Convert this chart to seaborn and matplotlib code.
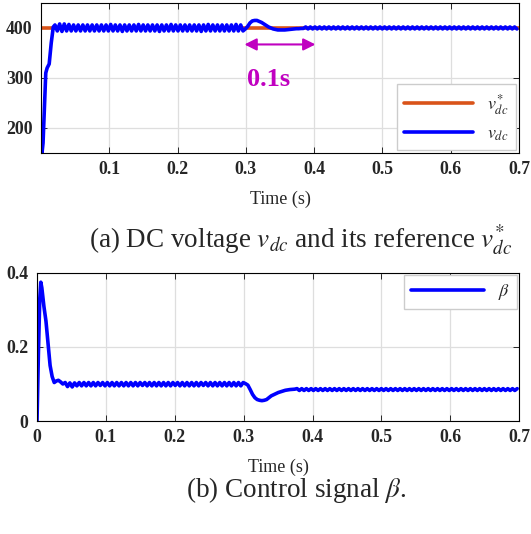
import numpy as np
import seaborn as sns
import matplotlib.pyplot as plt

# ---- data ----
# DC voltage: start-up transient, then samples every half ripple period
t_v_start = [0, 0.0015, 0.003, 0.005, 0.007, 0.009, 0.012, 0.015, 0.018]
v_start = [195, 150, 170, 240, 310, 320, 328, 370, 402]
v_t0, v_dt = 0.0205, 0.0034
v_steady = [
    406, 394, 408, 393, 408, 394, 407, 394, 406, 394,
    406, 394, 406, 394, 406, 394, 406, 394, 406, 394,
    406, 394, 406, 394, 407, 394, 406, 394, 406, 393,
    406, 394, 406, 394, 406, 394, 407, 394, 406, 394,
    406, 394, 406, 394, 406, 393, 406, 394, 406, 394,
    407, 394, 406, 394, 406, 394, 406, 394, 406, 394,
    406, 394, 406, 393, 406, 394, 407, 394, 406, 394,
    406, 394, 406, 394, 406, 394, 406, 394, 407, 394,
    406, 394, 398,
    # load step at 0.3 s
    403, 410, 414, 415, 415, 413, 411, 408, 405, 402,
    400, 398, 397, 396, 396, 396, 396, 396.5, 397, 397.5,
    398, 398.5, 398.5, 399, 399,
    # settled
    402, 398, 402, 398, 402, 398, 402, 398, 402, 398,
    402, 398, 402, 398, 402, 398, 402, 398, 402, 398,
    402, 398, 402, 398, 402, 398, 402, 398, 402, 398,
    402, 398, 402, 398, 402, 398, 402, 398, 402, 398,
    402, 398, 402, 398, 402, 398, 402, 398, 402, 398,
    402, 398, 402, 398, 402, 398, 402, 398, 402, 398,
    402, 398, 402, 398, 402, 398, 402, 398, 402, 398,
    402, 398, 402, 398, 402, 398, 402, 398, 402, 398,
    402, 398, 402, 398, 402, 398, 402, 398, 402, 398,
    402, 398,
]
t_ref = [0, 0.7]
v_ref = [400, 400]

# control signal beta
t_b_start = [0, 0.002, 0.004, 0.0055, 0.007, 0.010, 0.013, 0.016, 0.019,
             0.022, 0.025, 0.028, 0.031, 0.034]
b_start = [0, 0.18, 0.33, 0.375, 0.36, 0.31, 0.27, 0.21, 0.15,
           0.12, 0.104, 0.108, 0.110, 0.106]
b_t0, b_dt = 0.0375, 0.0034
b_steady = [
    0.100, 0.104, 0.093, 0.103, 0.092, 0.103, 0.095, 0.104, 0.095, 0.104,
    0.095, 0.104, 0.095, 0.104, 0.095, 0.104, 0.096, 0.104, 0.095, 0.104,
    0.095, 0.104, 0.095, 0.104, 0.095, 0.104, 0.095, 0.104, 0.095, 0.104,
    0.095, 0.104, 0.095, 0.104, 0.096, 0.104, 0.095, 0.104, 0.095, 0.104,
    0.095, 0.104, 0.095, 0.104, 0.095, 0.104, 0.095, 0.104, 0.096, 0.104,
    0.095, 0.104, 0.095, 0.104, 0.095, 0.104, 0.095, 0.104, 0.095, 0.104,
    0.096, 0.104, 0.095, 0.104, 0.095, 0.104, 0.095, 0.104, 0.095, 0.104,
    0.095, 0.104, 0.095, 0.104, 0.095, 0.104, 0.095, 0.104,
    # load step at 0.3 s
    0.101, 0.097, 0.085, 0.072, 0.063, 0.058, 0.056, 0.055, 0.056, 0.058,
    0.063, 0.068, 0.071, 0.074, 0.077, 0.079, 0.081, 0.083, 0.084, 0.085,
    0.0855, 0.086,
    # settled
    0.0875, 0.0825, 0.0875, 0.0825, 0.0875, 0.0825, 0.0875, 0.0825, 0.0875, 0.0825,
    0.0875, 0.0825, 0.0875, 0.0825, 0.0875, 0.0825, 0.0875, 0.0825, 0.0875, 0.0825,
    0.0875, 0.0825, 0.0875, 0.0825, 0.0875, 0.0825, 0.0875, 0.0825, 0.0875, 0.0825,
    0.0875, 0.0825, 0.0875, 0.0825, 0.0875, 0.0825, 0.0875, 0.0825, 0.0875, 0.0825,
    0.0875, 0.0825, 0.0875, 0.0825, 0.0875, 0.0825, 0.0875, 0.0825, 0.0875, 0.0825,
    0.0875, 0.0825, 0.0875, 0.0825, 0.0875, 0.0825, 0.0875, 0.0825, 0.0875, 0.0825,
    0.0875, 0.0825, 0.0875, 0.0825, 0.0875, 0.0825, 0.0875, 0.0825, 0.0875, 0.0825,
    0.0875, 0.0825, 0.0875, 0.0825, 0.0875, 0.0825, 0.0875, 0.0825, 0.0875, 0.0825,
    0.0875, 0.0825, 0.0875, 0.0825, 0.0875, 0.0825, 0.0875, 0.0825, 0.0875, 0.0825,
    0.0875, 0.0825, 0.0875, 0.0825, 0.0875,
]

x_ticks_a = [0.1, 0.2, 0.3, 0.4, 0.5, 0.6, 0.7]
x_ticks_b = [0, 0.1, 0.2, 0.3, 0.4, 0.5, 0.6, 0.7]
y_ticks_a = [200, 300, 400]
y_ticks_b = [0, 0.2, 0.4]

# sample times for the steady parts (fixed step)
t_v = np.concatenate([t_v_start, v_t0 + v_dt * np.arange(len(v_steady))])
v_dc = np.concatenate([v_start, v_steady])
t_b = np.concatenate([t_b_start, b_t0 + b_dt * np.arange(len(b_steady))])
beta = np.concatenate([b_start, b_steady])

# ---- style ----
sns.set_style('whitegrid')
plt.rcParams['font.family'] = 'serif'
plt.rcParams['font.serif'] = ['Liberation Serif', 'DejaVu Serif']
plt.rcParams['mathtext.fontset'] = 'stix'

blue = '#0000FF'
orange = '#D95319'
magenta = '#C000C0'


def style_axes(ax, xticks, yticks, xlabels, ylabels):
    for s in ax.spines.values():
        s.set_color('black')
        s.set_linewidth(0.8)
    ax.grid(True, color='#DEDEDE', lw=0.9)
    ax.set_xticks(xticks)
    ax.set_yticks(yticks)
    ax.set_xticklabels(xlabels, fontweight='bold')
    ax.set_yticklabels(ylabels, fontweight='bold')
    ax.tick_params(direction='in', length=4, width=0.7, top=True, right=True,
                   bottom=True, left=True, labelsize=12.8, pad=6)
    ax.set_xlabel('Time (s)', fontsize=13, labelpad=9)
    ax.set_ylabel('')


fig = plt.figure(figsize=(5.31, 5.34), dpi=100)
ax1 = fig.add_axes([0.0772, 0.7135, 0.9, 0.281])
ax2 = fig.add_axes([0.0697, 0.2116, 0.908, 0.2772])

# (a) DC voltage
sns.lineplot(x=t_ref, y=v_ref, ax=ax1, color=orange, lw=2.6, label=r'$v_{dc}^{*}$')
sns.lineplot(x=t_v, y=v_dc, ax=ax1, color=blue, lw=2.6, label=r'$v_{dc}$')
ax1.set_xlim(0, 0.7)
ax1.set_ylim(150, 450)
style_axes(ax1, x_ticks_a, y_ticks_a,
           ['0.1', '0.2', '0.3', '0.4', '0.5', '0.6', '0.7'], ['200', '300', '400'])
leg = ax1.legend(loc='lower right', fontsize=13, handlelength=3.8,
                 borderaxespad=0.15, fancybox=False, framealpha=1)
leg.get_frame().set_edgecolor('#CCCCCC')

ax1.annotate('', xy=(0.298, 367), xytext=(0.402, 367),
             arrowprops=dict(arrowstyle='<|-|>', color=magenta, lw=1.5,
                             mutation_scale=18, shrinkA=0, shrinkB=0))
ax1.text(0.334, 297, '0.1s', color=magenta, fontsize=19, fontweight='bold',
         ha='center', va='center')

# (b) control signal
sns.lineplot(x=t_b, y=beta, ax=ax2, color=blue, lw=2.6, label=r'$\beta$')
ax2.set_xlim(0, 0.7)
ax2.set_ylim(0, 0.4)
style_axes(ax2, x_ticks_b, y_ticks_b,
           ['0', '0.1', '0.2', '0.3', '0.4', '0.5', '0.6', '0.7'], ['0', '0.2', '0.4'])
leg2 = ax2.legend(loc='upper right', fontsize=13, handlelength=4.0,
                  borderaxespad=0.1, fancybox=False, framealpha=1)
leg2.get_frame().set_edgecolor('#CCCCCC')

fig.text(0.567, 1 - 240 / 534, r'(a) DC voltage $v_{dc}$ and its reference $v_{dc}^{*}$',
         ha='center', va='center', fontsize=19.5)
fig.text(0.557, 1 - 490 / 534, r'(b) Control signal $\beta$.',
         ha='center', va='center', fontsize=19.5)

fig.savefig('out.png', dpi=100)
